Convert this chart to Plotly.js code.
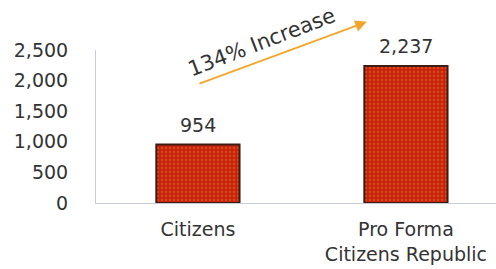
<!DOCTYPE html>
<html>
<head>
<meta charset="utf-8">
<script src="https://cdn.plot.ly/plotly-3.0.1.min.js"></script>
<style>html,body{margin:0;padding:0;background:#fff;}#chart{width:496px;height:269px;}</style>
</head>
<body>
<div id="chart"></div>
<script>
const categories = ["Citizens", "Pro Forma<br>Citizens Republic"];
const values = [954, 2237];
const valueLabels = ["954", "2,237"];
const yTickVals = [0, 500, 1000, 1500, 2000, 2500];
const yTickText = ["0", "500", "1,000", "1,500", "2,000", "2,500"];
const increaseLabel = "134% Increase";

function mkFont(size){ return {family: "DejaVu Sans, Verdana, sans-serif", size: size || 19, color: "#333"}; }

const trace = {
  type: "bar",
  x: [0, 1],
  y: values,
  width: 0.4,
  marker: {
    color: "#c8220c",
    line: {color: "#3d1a12", width: 2},
    pattern: {shape: ".", fgcolor: "#e4792a", bgcolor: "#c8220c", size: 4, solidity: 0.25, fillmode: "overlay"}
  },
  hoverinfo: "skip"
};

const annotations = [];
annotations.push({
  x: 0.31, y: 1.05, xref: "x", yref: "paper", xanchor: "center", yanchor: "middle",
  text: increaseLabel, showarrow: false, textangle: -21, font: mkFont(21)
});
values.forEach((v, i) => annotations.push({
  x: i, y: v, xref: "x", yref: "y", text: valueLabels[i], showarrow: false,
  yanchor: "bottom", yshift: 7, font: mkFont()
}));
annotations.push({
  x: 0.8125, y: 2960, ax: 0, ay: 1941, xref: "x", yref: "y", axref: "x", ayref: "y",
  text: "", showarrow: true, arrowhead: 2, arrowsize: 1.3, arrowwidth: 1.8, arrowcolor: "#f4a62a"
});

const layout = {
  width: 496, height: 269,
  margin: {l: 96, r: 0, t: 50, b: 66},
  paper_bgcolor: "#fff", plot_bgcolor: "#fff",
  showlegend: false,
  font: mkFont(),
  xaxis: {
    range: [-0.49, 1.433], tickvals: [0, 1], ticktext: categories,
    showline: true, linecolor: "#c8ccd4", linewidth: 1, ticks: "", showgrid: false, zeroline: false,
    ticklabelstandoff: 9, fixedrange: true
  },
  yaxis: {
    range: [0, 2500], tickvals: yTickVals, ticktext: yTickText,
    showline: true, linecolor: "#c8ccd4", linewidth: 1, ticks: "", showgrid: false, zeroline: false,
    ticklabelstandoff: 23, fixedrange: true
  },
  annotations: annotations
};

Plotly.newPlot("chart", [trace], layout, {displayModeBar: false, staticPlot: true});
</script>
</body>
</html>
